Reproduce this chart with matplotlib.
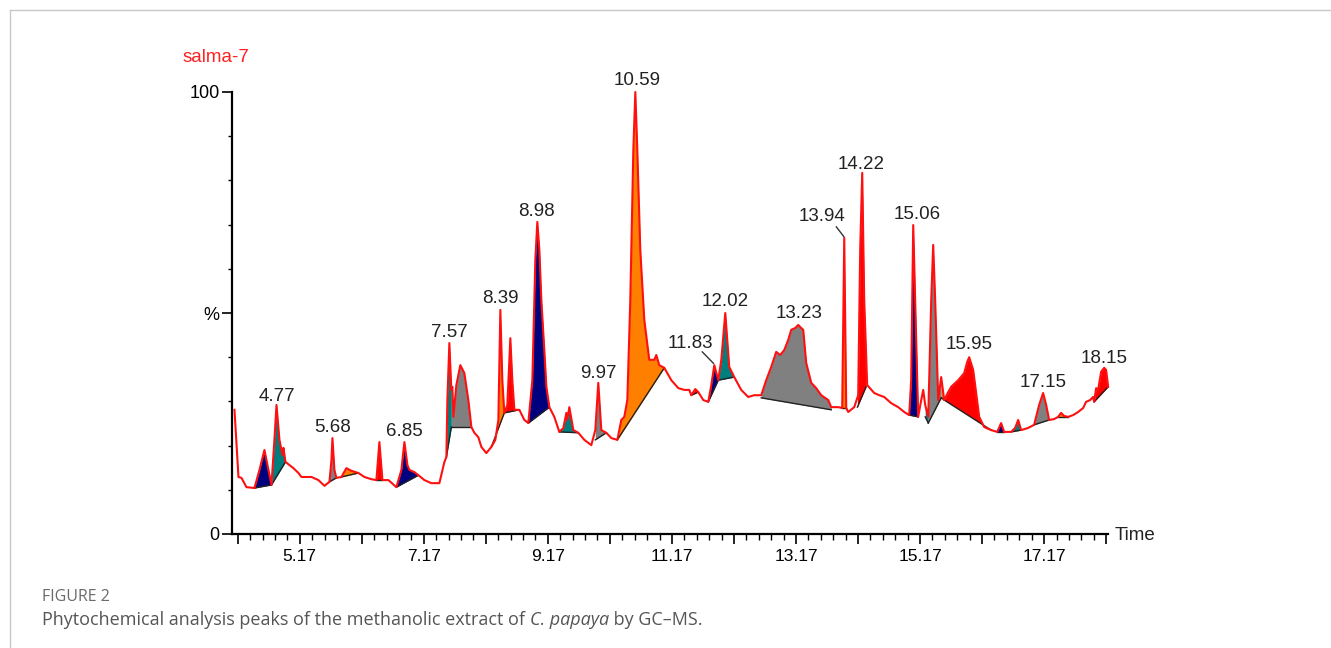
import matplotlib
matplotlib.use("Agg")
import matplotlib.pyplot as plt
import numpy as np

# ---------------- data ----------------
trace_t = [4.118, 4.182, 4.231, 4.311, 4.440, 4.521, 4.601, 4.666, 4.714, 4.762, 4.795, 4.843,
           4.891, 4.907, 4.940, 5.004, 5.068, 5.149, 5.197, 5.359, 5.471, 5.568, 5.649, 5.681,
           5.697, 5.729, 5.761, 5.842, 5.922, 6.003, 6.116, 6.213, 6.325, 6.406, 6.454, 6.503,
           6.599, 6.728, 6.809, 6.857, 6.906, 6.938, 7.018, 7.083, 7.179, 7.292, 7.421, 7.502,
           7.534, 7.550, 7.582, 7.614, 7.630, 7.647, 7.695, 7.759, 7.824, 7.888, 7.937, 7.985,
           8.049, 8.098, 8.178, 8.259, 8.323, 8.372, 8.404, 8.436, 8.468, 8.517, 8.565, 8.597,
           8.630, 8.710, 8.791, 8.855, 8.920, 8.968, 9.000, 9.033, 9.065, 9.113, 9.146, 9.194,
           9.274, 9.355, 9.420, 9.468, 9.484, 9.516, 9.581, 9.661, 9.758, 9.870, 9.935, 9.983,
           10.032, 10.112, 10.193, 10.290, 10.354, 10.402, 10.451, 10.499, 10.548, 10.580, 10.612,
           10.660, 10.725, 10.805, 10.886, 10.918, 10.966, 11.047, 11.160, 11.273, 11.370, 11.450,
           11.482, 11.547, 11.595, 11.676, 11.756, 11.805, 11.853, 11.917, 11.966, 12.030, 12.062,
           12.094, 12.175, 12.287, 12.400, 12.497, 12.610, 12.690, 12.771, 12.851, 12.916, 12.980,
           13.045, 13.093, 13.158, 13.206, 13.254, 13.287, 13.335, 13.416, 13.496, 13.577, 13.690,
           13.738, 13.851, 13.915, 13.948, 13.980, 14.012, 14.109, 14.173, 14.205, 14.238, 14.270,
           14.318, 14.431, 14.512, 14.592, 14.705, 14.818, 14.915, 14.995, 15.027, 15.060, 15.092,
           15.140, 15.189, 15.221, 15.253, 15.302, 15.350, 15.382, 15.414, 15.463, 15.511, 15.559,
           15.624, 15.672, 15.785, 15.882, 15.930, 15.962, 16.027, 16.075, 16.124, 16.204, 16.317,
           16.414, 16.477, 16.526, 16.639, 16.703, 16.752, 16.800, 16.913, 17.009, 17.090, 17.154,
           17.203, 17.251, 17.332, 17.396, 17.444, 17.493, 17.557, 17.638, 17.718, 17.799, 17.847,
           17.912, 17.960, 17.976, 18.009, 18.041, 18.089, 18.138, 18.170, 18.202]
trace_i = [28.1, 12.9, 12.7, 10.6, 10.4, 14.5, 19.0, 14.5, 11.1, 21.3, 29.2, 21.3,
           17.9, 19.5, 16.3, 15.6, 14.9, 13.8, 12.9, 12.9, 12.2, 10.9, 11.8, 16.7,
           21.7, 14.5, 12.7, 12.9, 14.9, 14.3, 13.8, 12.9, 12.4, 12.2, 20.8, 12.2,
           12.2, 10.6, 14.5, 20.8, 15.6, 14.5, 14.0, 13.3, 12.2, 11.5, 11.5, 16.3,
           17.4, 30.3, 43.2, 32.6, 33.3, 26.5, 33.7, 38.2, 36.4, 30.3, 24.2, 22.9,
           21.9, 19.7, 18.3, 19.7, 21.3, 25.8, 50.7, 34.8, 27.4, 29.2, 44.3, 34.8,
           28.1, 28.1, 25.8, 25.1, 34.8, 62.0, 70.6, 64.3, 52.9, 41.6, 33.3, 28.7,
           26.5, 23.1, 24.0, 27.4, 25.8, 28.7, 23.5, 22.9, 21.3, 20.1, 23.5, 34.2,
           23.5, 22.9, 21.7, 21.3, 25.8, 26.5, 30.3, 52.9, 86.9, 100.0, 86.9,
           64.3, 48.4, 39.4, 39.4, 40.5, 38.2, 37.6, 34.8, 33.0, 32.6, 32.6,
           31.4, 32.8, 32.1, 30.3, 29.9, 33.7, 38.2, 34.8, 39.4, 50.0, 43.9,
           37.8, 35.5, 32.6, 31.0, 31.4, 31.4, 34.8, 37.8, 41.2, 40.5, 41.6,
           43.9, 46.2, 46.6, 47.3, 46.6, 46.2, 38.7, 34.2, 33.0, 31.4, 30.3,
           28.7, 28.7, 28.5, 67.0, 28.5, 27.6, 28.7, 31.4, 64.3, 81.7, 52.9,
           33.7, 31.9, 31.4, 31.0, 29.6, 28.7, 27.6, 26.9, 34.8, 69.9, 52.9,
           26.5, 30.3, 32.6, 29.2, 26.5, 52.9, 65.4, 52.9, 30.3, 35.5, 30.3,
           32.1, 33.3, 34.8, 36.4, 38.9, 40.0, 37.1, 31.9, 26.5, 24.2, 23.5,
           23.1, 25.1, 23.1, 23.1, 24.0, 25.8, 23.5, 24.0, 24.7, 29.2, 31.9,
           29.2, 25.8, 26.0, 26.5, 27.4, 26.7, 26.5, 26.9, 27.6, 28.5, 29.9,
           30.3, 31.0, 29.9, 33.0, 32.6, 36.7, 37.6, 37.1, 33.3]

# integrated peaks: start time, end time, baseline at start, baseline at end, colour name
peak_start = [4.440, 4.714, 5.649, 5.842, 6.406, 6.728, 7.534, 7.614, 8.259, 8.468, 8.855,
              9.355, 9.935, 10.290, 11.482, 11.756, 11.917, 12.610, 13.915, 14.160, 14.995,
              15.253, 15.302, 15.511, 15.560, 16.414, 16.639, 17.009, 17.396, 17.976]
peak_end = [4.714, 4.940, 5.761, 6.116, 6.503, 7.083, 7.614, 7.937, 8.468, 8.710, 9.194,
            9.661, 10.112, 11.047, 11.595, 11.917, 12.175, 13.738, 13.980, 14.300, 15.140,
            15.302, 15.511, 15.560, 16.317, 16.526, 16.800, 17.251, 17.557, 18.202]
peak_base0 = [10.4, 11.1, 11.8, 12.9, 12.2, 10.6, 17.4, 24.2, 19.7, 27.4, 25.1,
              23.1, 21.3, 21.3, 31.4, 29.9, 34.8, 30.8, 28.5, 28.7, 26.9,
              26.5, 25.1, 30.8, 30.3, 23.1, 23.1, 24.7, 26.5, 29.9]
peak_base1 = [11.1, 16.3, 12.7, 13.8, 12.2, 13.3, 24.2, 24.2, 27.4, 28.1, 28.7,
              22.9, 22.9, 37.6, 32.1, 34.8, 35.5, 28.1, 28.5, 33.3, 26.5,
              25.1, 30.8, 30.3, 23.5, 23.1, 23.5, 25.8, 26.5, 33.3]
peak_colour = ["navy", "teal", "gray", "orange", "red", "navy", "teal", "gray", "orange", "red", "navy",
               "teal", "gray", "orange", "red", "navy", "teal", "gray", "orange", "red", "navy",
               "teal", "gray", "orange", "red", "navy", "teal", "gray", "orange", "red"]

# peak labels: text, label x (time), label y (%)
label_text = ["4.77", "5.68", "6.85", "7.57", "8.39", "8.98", "9.97", "10.59", "11.83", "12.02",
              "13.23", "13.94", "14.22", "15.06", "15.95", "17.15", "18.15"]
label_t = [4.795, 5.697, 6.857, 7.582, 8.404, 8.984, 9.983, 10.612, 11.46, 12.03,
           13.22, 13.59, 14.22, 15.13, 15.96, 17.15, 18.14]
label_i = [31.2, 24.2, 23.1, 45.5, 53.2, 72.9, 36.4, 102.7, 43.2, 52.5,
           50.0, 71.9, 83.7, 72.2, 42.8, 34.2, 39.8]

x_labels = ["5.17", "7.17", "9.17", "11.17", "13.17", "15.17", "17.17"]

colour_map = {"navy": "#00007f", "teal": "#007f7f", "gray": "#808080",
              "orange": "#ff8000", "red": "#ff0000"}

# ---------------- figure ----------------
W, H = 1331, 648
fig = plt.figure(figsize=(W / 100, H / 100), dpi=100)
plt.rcParams['font.family'] = ['Liberation Sans', 'DejaVu Sans']

x0, x1 = 232, 1108
y0, ytop = 534, 92
ax = fig.add_axes([x0 / W, 1 - y0 / H, (x1 - x0) / W, (y0 - ytop) / H])
ax.set_xlim(4.078, 18.20)
ax.set_ylim(0, 100)

tt = np.array(trace_t)
ii = np.array(trace_i)

for a, b, b0, b1, c in zip(peak_start, peak_end, peak_base0, peak_base1, peak_colour):
    mask = (tt > a) & (tt < b)
    xs = np.concatenate([[a], tt[mask], [b]])
    ys = np.concatenate([[np.interp(a, tt, ii)], ii[mask], [np.interp(b, tt, ii)]])
    base = b0 + (b1 - b0) * (xs - a) / (b - a)
    ax.fill_between(xs, base, ys, color=colour_map[c], lw=0, zorder=2, clip_on=False)
    ax.plot([a, b], [b0, b1], color="#222222", lw=1.0, zorder=3, clip_on=False)

ax.plot(tt, ii, color="#ff1010", lw=1.5, zorder=4, clip_on=False)

for s, t, v in zip(label_text, label_t, label_i):
    ax.text(t, v, s, ha="center", va="center", fontsize=13.5, color="#222222", zorder=5)

# leader lines
ax.plot([11.66, 11.84], [41.2, 38.6], color="#333333", lw=1.0, zorder=5)
ax.plot([13.82, 13.94], [69.5, 67.3], color="#333333", lw=1.0, zorder=5)

# axes styling
for s in ["top", "right"]:
    ax.spines[s].set_visible(False)
ax.spines["left"].set_linewidth(1.6)
ax.spines["bottom"].set_linewidth(1.6)

major_x = [4.17 + k for k in range(15)]
minor_x = [round(4.17 + 0.2 * k, 2) for k in range(71)]
ax.set_xticks(major_x)
ax.set_xticks(minor_x, minor=True)
ax.set_xticklabels([s if s in x_labels else "" for s in ["%.2f" % v for v in major_x]])
ax.tick_params(axis="x", which="major", length=7, width=1.2, pad=4, labelsize=12.5)
ax.tick_params(axis="x", which="minor", length=4, width=1.0)

ax.set_yticks([0, 50, 100])
ax.set_yticklabels(["0", "%", "100"])
ax.set_yticks(list(range(10, 100, 10)), minor=True)
ax.tick_params(axis="y", which="major", length=7, width=1.2, pad=2, labelsize=13)
ax.tick_params(axis="y", which="minor", length=3, width=1.0)

fig.text(1115 / W, 1 - 536 / H, "Time", ha="left", va="center", fontsize=13.5, color="#222222")
fig.text(183 / W, 1 - 57 / H, "salma-7", ha="left", va="center", fontsize=13.5, color="#ff2020")

# frame around the figure panel
fig.add_artist(plt.Line2D([10 / W, 1], [1 - 10 / H, 1 - 10 / H], color="#c8c8c8", lw=1.0))
fig.add_artist(plt.Line2D([10 / W, 10 / W], [0, 1 - 10 / H], color="#c8c8c8", lw=1.0))

# caption
fig.text(42 / W, 1 - 597 / H, "FIGURE 2", ha="left", va="center", fontsize=11.5,
         color="#6a6a6a", family="Open Sans")
fig.canvas.draw()
r = fig.canvas.get_renderer()
cap_y = 1 - 620 / H
t1 = fig.text(42 / W, cap_y, "Phytochemical analysis peaks of the methanolic extract of ",
              ha="left", va="center", fontsize=13, color="#555555", family="Open Sans")
bb = t1.get_window_extent(r)
t2 = fig.text(bb.x1 / W, cap_y, "C. papaya", ha="left", va="center", fontsize=13,
              color="#555555", family="Open Sans", style="italic")
bb2 = t2.get_window_extent(r)
fig.text(bb2.x1 / W, cap_y, " by GC\u2013MS.", ha="left", va="center", fontsize=13,
         color="#555555", family="Open Sans")

fig.savefig("out.png", dpi=100)
